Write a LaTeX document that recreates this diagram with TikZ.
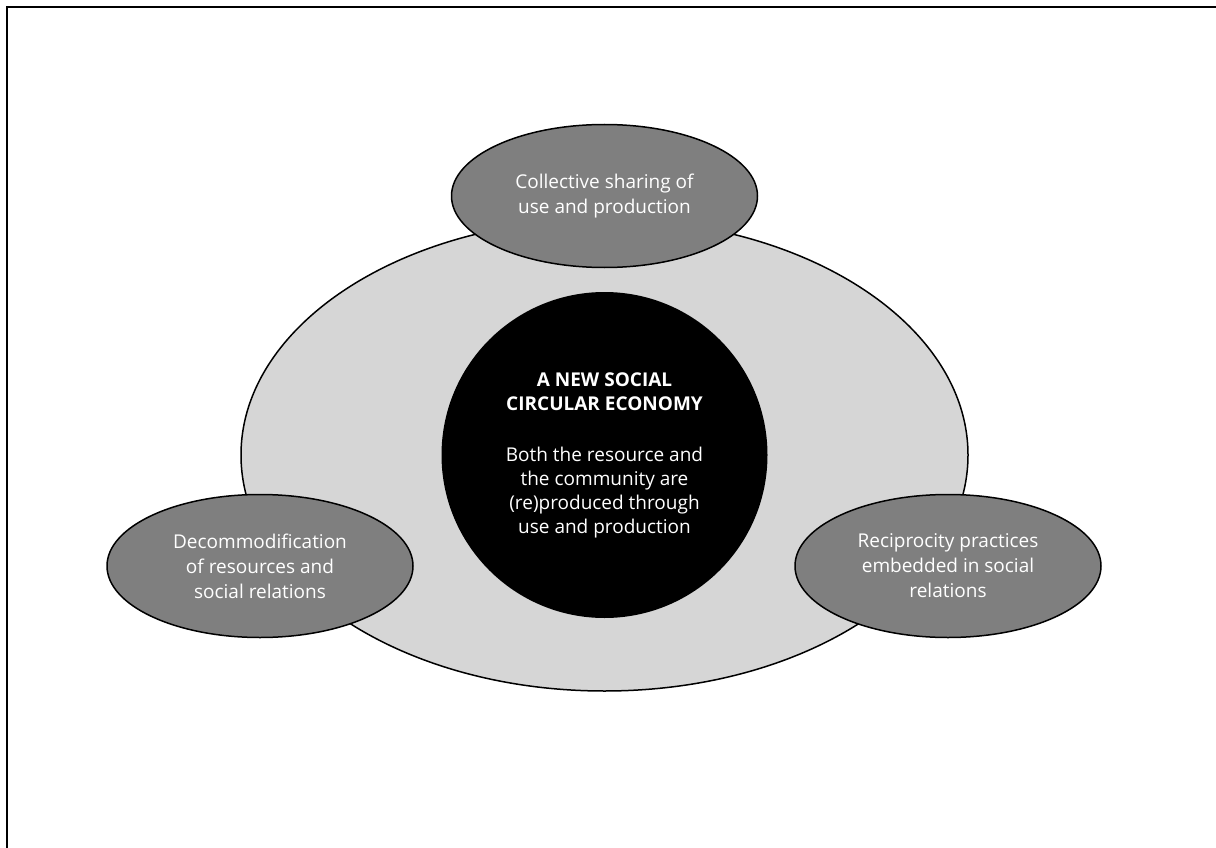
\documentclass[tikz,border=0pt]{standalone}
\usepackage{fontspec}
\setmainfont{Open Sans}
\usetikzlibrary{shapes.geometric, positioning}
\definecolor{ringgray}{HTML}{D6D6D6}
\definecolor{petalgray}{HTML}{7F7F7F}
\tikzset{
  ring/.style={ellipse, draw=black, line width=1.5pt, fill=ringgray,
               minimum width=727pt, minimum height=472pt},
  core/.style={circle, fill=black, text=white, align=center,
               minimum size=326pt, font=\fontsize{19}{24}\selectfont},
  petal/.style={ellipse, draw=black, line width=1.5pt, fill=petalgray, text=white,
                align=center, inner sep=0pt, minimum width=306pt, minimum height=143pt,
                font=\fontsize{19}{25}\selectfont},
}

\begin{document}
\begin{tikzpicture}[x=1pt, y=-1pt]
  \useasboundingbox (0,0) rectangle (1216,848);

  % frame
  \draw[line width=2.6pt] (7,848) -- (7,7) -- (1216,7);

  % outer ring and centre
  \node[ring] (ring) at (604.5,455) {};
  \node[core] (core) at (ring.center) {\textbf{A NEW SOCIAL}\\\textbf{CIRCULAR ECONOMY}\\[27pt]
    Both the resource and\\the community are\\(re)produced through\\use and production};

  % three practices
  \node[petal] (sharing) at (604.5,196) {Collective sharing of\\use and production};
  \node[petal] (decom) at (260,566) {Decommodification\\of resources and\\social relations};
  \node[petal] (recip) at (948,566) {Reciprocity practices\\embedded in social\\relations};

\end{tikzpicture}
\end{document}
